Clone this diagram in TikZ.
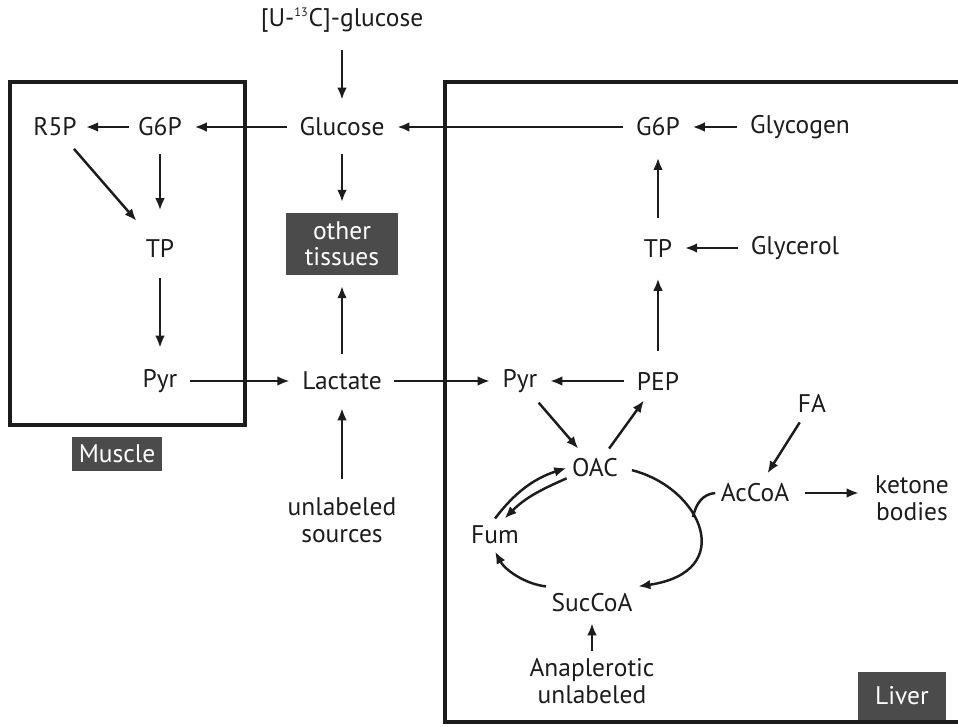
\documentclass[tikz,border=0pt]{standalone}
\usepackage{fontspec}
\setmainfont{PT Sans}
\usetikzlibrary{positioning,arrows.meta}
\definecolor{ink}{HTML}{1C1C1C}
\definecolor{panel}{HTML}{4B4B4B}
\tikzset{
  met/.style={font=\fontsize{14.5}{15.5}\selectfont, text=ink, inner xsep=3pt, inner ysep=4pt, align=center},
  tag/.style={fill=panel, text=white, font=\fontsize{14.5}{15}\selectfont, align=center, inner sep=0pt},
  flow/.style={->, draw=ink, line width=1.4pt},
  organ/.style={draw=ink, line width=1.8pt}
}

\begin{document}
\begin{tikzpicture}[x=0.02cm, y=-0.02cm, >={Latex[length=7pt,width=5.5pt]}]
  \useasboundingbox (0,0) rectangle (958,727);
  % compartments
  \draw[organ] (10,82) rectangle (245,425);
  \draw[organ] (958,82) -- (445,82) -- (445,722) -- (958,722);
  \node[tag, minimum width=1.8cm, minimum height=0.68cm] (muscle) at (117,454) {Muscle};
  \node[tag, minimum width=1.78cm, minimum height=0.96cm] (liver) at (902,696) {Liver};
  \node[tag, minimum width=2.26cm, minimum height=1.24cm] (other) at (342,244) {other\\tissues};

  % blood
  \node[met] (tracer) at (342,20) {[U-\textsuperscript{\scriptsize 13}C]-glucose};
  \node[met] (glc) at (342,127) {Glucose};
  \node[met] (lac) at (342,381) {Lactate};
  \node[met] (src) at (342,520) {unlabeled\\sources};

  % muscle
  \node[met] (r5p) at (55,127) {R5P};
  \node[met] (mg6p) at (160,127) {G6P};
  \node[met] (mtp) at (160,248) {TP};
  \node[met] (mpyr) at (160,381) {Pyr};

  % liver
  \node[met] (lg6p) at (658,127) {G6P};
  \node[met] (glyc) at (800,127) {Glycogen};
  \node[met] (ltp) at (658,248) {TP};
  \node[met] (glyl) at (795,248) {Glycerol};
  \node[met] (pep) at (658,381) {PEP};
  \node[met] (lpyr) at (520,381) {Pyr};
  \node[met] (oac) at (595,468) {OAC};
  \node[met] (fum) at (495,535) {Fum};
  \node[met] (suc) at (592,603) {SucCoA};
  \node[met] (ana) at (592,681) {Anaplerotic\\unlabeled};
  \node[met] (fa) at (812,403) {FA};
  \node[met] (acc) at (755,493) {AcCoA};
  \node[met] (ket) at (912,498) {ketone\\bodies};

  \draw[flow, shorten <=6pt, shorten >=6pt] (tracer) -- (glc);
  \draw[flow, shorten <=6pt, shorten >=6pt] (glc) -- (other);
  \draw[flow, shorten <=6pt, shorten >=6pt] (lac) -- (other);
  \draw[flow, shorten <=6pt, shorten >=6pt] (src) -- (lac);
  \draw[flow, shorten <=4pt, shorten >=4pt] (glc) -- (mg6p);
  \draw[flow, shorten <=2pt, shorten >=2pt] (mg6p) -- (r5p);
  \draw[flow, shorten <=6pt, shorten >=12pt] (mg6p) -- (mtp);
  \draw[flow, shorten <=4pt, shorten >=8pt] (r5p) -- (mtp);
  \draw[flow, shorten <=8pt, shorten >=8pt] (mtp) -- (mpyr);
  \draw[flow, shorten <=4pt, shorten >=4pt] (mpyr) -- (lac);
  \draw[flow, shorten <=4pt, shorten >=4pt] (lac) -- (lpyr);

  \draw[flow, shorten <=4pt, shorten >=4pt] (lg6p) -- (glc);
  \draw[flow, shorten <=4pt, shorten >=4pt] (glyc) -- (lg6p);
  \draw[flow, shorten <=8pt, shorten >=8pt] (ltp) -- (lg6p);
  \draw[flow, shorten <=4pt, shorten >=4pt] (glyl) -- (ltp);
  \draw[flow, shorten <=8pt, shorten >=8pt] (pep) -- (ltp);
  \draw[flow, shorten <=4pt, shorten >=4pt] (pep) -- (lpyr);
  \draw[flow, shorten <=2pt, shorten >=2pt] (lpyr) -- (oac);
  \draw[flow, shorten <=2pt, shorten >=2pt] (oac) -- (pep);
  \draw[flow, shorten <=2pt, shorten >=2pt] (fa) -- (acc);
  \draw[flow, shorten <=6pt, shorten >=6pt] (acc) -- (acc -| ket.west);
  \draw[flow, shorten <=0pt, shorten >=2pt] (ana) -- (suc);

  % cycle
  \draw[flow, shorten <=5pt] (oac.east) .. controls (702,488) and (738,572) .. (suc.north east)
    coordinate[pos=0.42] (join);
  \draw[draw=ink, line width=1.4pt] (acc.west) .. controls (703,494) and (696,503) .. (join);
  \draw[flow] (suc.north west) .. controls (525,584) and (505,570) .. (fum.south);
  \draw[flow] (fum.north) .. controls (515,492) and (535,478) .. (oac.west);
  \draw[flow] (oac.200) .. controls (540,490) and (525,498) .. (fum.60);
\end{tikzpicture}
\end{document}
